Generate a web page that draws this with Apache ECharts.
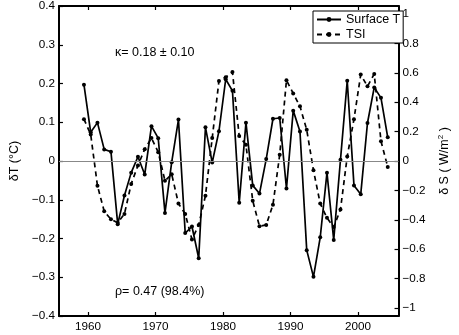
<!DOCTYPE html>
<html><head><meta charset="utf-8">
<script src="https://cdn.jsdelivr.net/npm/echarts@6/dist/echarts.min.js"></script>
<style>html,body{margin:0;padding:0;background:#fff}#c{width:459px;height:335px}</style>
</head><body><div id="c"></div>
<script>
const years = [1959,1960,1961,1962,1963,1964,1965,1966,1967,1968,1969,1970,1971,1972,1973,1974,1975,1976,1977,1978,1979,1980,1981,1982,1983,1984,1985,1986,1987,1988,1989,1990,1991,1992,1993,1994,1995,1996,1997,1998,1999,2000,2001,2002,2003,2004];
const surfaceT = [0.197,0.074,0.099,0.030,0.024,-0.163,-0.089,-0.030,0.011,-0.035,0.090,0.059,-0.134,-0.003,0.107,-0.186,-0.169,-0.251,0.087,-0.004,0.077,0.211,0.181,-0.108,0.099,-0.063,-0.084,0.005,0.109,0.111,-0.071,0.130,0.076,-0.230,-0.299,-0.197,-0.030,-0.204,0.003,0.207,-0.063,-0.086,0.098,0.190,0.163,0.061];
const tsi = [0.285,0.18,-0.168,-0.342,-0.397,-0.42,-0.36,-0.156,-0.03,0.08,0.156,0.06,-0.134,-0.09,-0.29,-0.36,-0.534,-0.435,-0.236,0.156,0.545,0.57,0.605,0.17,0.11,-0.27,-0.444,-0.435,-0.297,0.043,0.55,0.46,0.372,0.212,-0.063,-0.29,-0.387,-0.45,-0.33,0.03,0.285,0.588,0.508,0.592,0.135,-0.04];
const xTicks = [1960,1970,1980,1990,2000];
const rightTicks = [-1,-0.8,-0.6,-0.4,-0.2,0,0.2,0.4,0.6,0.8,1];
const seriesNames = ['Surface T','TSI'];
const kappaText = 'κ= 0.18 ± 0.10';
const rhoText = 'ρ= 0.47 (98.4%)';
const yearOffset = 0.4; // points plotted near mid-year

const FF = '"Liberation Sans", Arial, Helvetica, sans-serif';
const fmt = v => {
  if (Math.abs(v) < 1e-9) return '0';
  const a = Math.abs(v);
  const s = Math.abs(a - Math.round(a)) < 1e-9 ? String(Math.round(a)) : a.toFixed(1);
  return (v < 0 ? '\u2212' : '') + s;
};
const axisLine = {show:true, onZero:false, lineStyle:{color:'#000', width:2}};
const tickStyle = {color:'#000', width:1.2};

const chart = echarts.init(document.getElementById('c'), null, {renderer:'canvas'});
chart.setOption({
  animation:false,
  backgroundColor:'#fff',
  grid:{left:48, right:46, top:5, bottom:19, containLabel:false},
  xAxis:[{
    type:'value', min:1955.7, max:2006, position:'bottom',
    axisLine:axisLine,
    axisTick:{show:true, inside:true, length:4, customValues:xTicks, lineStyle:tickStyle},
    axisLabel:{customValues:xTicks, margin:5, color:'#000', fontSize:11.7, fontFamily:FF, formatter:v=>String(Math.round(v))},
    splitLine:{show:false}
  },{
    type:'value', min:1955.7, max:2006, position:'top',
    axisLine:axisLine,
    axisTick:{show:true, inside:true, length:4, customValues:xTicks, lineStyle:tickStyle},
    axisLabel:{show:false},
    splitLine:{show:false}
  }],
  yAxis:[{
    type:'value', min:-0.4, max:0.4, interval:0.1, position:'left',
    axisLine:axisLine,
    axisTick:{show:true, inside:true, length:4, lineStyle:tickStyle},
    axisLabel:{margin:4, color:'#000', fontSize:11.7, fontFamily:FF, formatter:fmt},
    splitLine:{show:false},
    name:'δT (°C)', nameLocation:'middle', nameRotate:90, nameGap:36,
    nameTextStyle:{color:'#000', fontSize:12.5, fontFamily:FF}
  },{
    type:'value', min:-1.055, max:1.055, position:'right',
    axisLine:axisLine,
    axisTick:{show:true, inside:true, length:4, customValues:rightTicks, lineStyle:tickStyle},
    axisLabel:{customValues:rightTicks, margin:4, color:'#000', fontSize:11.7, fontFamily:FF, formatter:fmt},
    splitLine:{show:false},
    name:'{a|δ S ( W/m}{s|2}{a| )}', nameLocation:'middle', nameRotate:90, nameGap:37,
    nameTextStyle:{color:'#000', fontFamily:FF,
      rich:{a:{fontSize:12.5, fontFamily:FF, color:'#000', lineHeight:16},
            s:{fontSize:8, fontFamily:FF, color:'#000', verticalAlign:'top', lineHeight:16}}}
  }],
  legend:{
    left:313, top:11, orient:'vertical', itemGap:2, itemWidth:24, itemHeight:6,
    padding:[2,3,2,3], borderColor:'#000', borderWidth:1, backgroundColor:'#fff',
    textStyle:{fontSize:12.5, color:'#000', fontFamily:FF},
    data:seriesNames
  },
  graphic:[
    {type:'text', left:115, top:46, style:{text:kappaText, font:'12.5px '+FF, fill:'#000'}},
    {type:'text', left:115, top:285, style:{text:rhoText, font:'12.5px '+FF, fill:'#000'}}
  ],
  series:[{
    name:seriesNames[0], type:'line', xAxisIndex:0, yAxisIndex:0,
    data:years.map((y,i)=>[y+yearOffset, surfaceT[i]]),
    symbol:'circle', symbolSize:4, showAllSymbol:true,
    lineStyle:{color:'#000', width:1.7}, itemStyle:{color:'#000'}, z:3,
    markLine:{silent:true, symbol:'none', label:{show:false},
      lineStyle:{color:'#888', width:1, type:'solid'}, data:[{yAxis:0}]}
  },{
    name:seriesNames[1], type:'line', xAxisIndex:0, yAxisIndex:1,
    data:years.map((y,i)=>[y+yearOffset, tsi[i]]),
    symbol:'circle', symbolSize:4, showAllSymbol:true,
    lineStyle:{color:'#000', width:1.7, type:[5,4]}, itemStyle:{color:'#000'}, z:2
  }]
});
</script>
</body></html>
